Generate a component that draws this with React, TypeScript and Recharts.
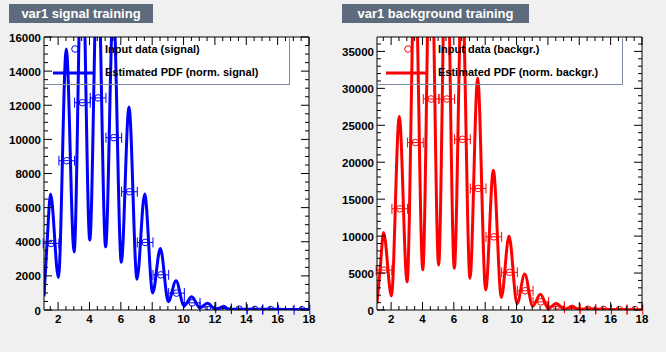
import React from 'react';
import { ComposedChart, Line, Scatter, ErrorBar, XAxis, YAxis, CartesianGrid } from 'recharts';

// fine-grained PDF curve: positions of the peaks and dips
const pdfX = [
  1.1, 1.3, 1.52, 2.02, 2.52, 3.02, 3.52, 4.02, 4.52, 5.03, 5.52, 6.03, 6.52, 7.03, 7.52, 8.03,
  8.52, 9.03, 9.52, 10.03, 10.52, 11.03, 11.52, 12.03, 12.52, 13.03, 13.52, 14.03, 14.52, 15.5,
  16.5, 17.5, 18,
];
const sigPdf = [
  800, 4000, 6800, 1900, 15300, 3400, 22000, 4100, 21000, 3700, 18000, 2800, 11900, 1800, 6800, 1000,
  3600, 490, 1720, 240, 780, 135, 390, 60, 160, 40, 60, 40, 45, 40,
  35, 30, 30,
];
const bkgPdf = [
  900, 5500, 10500, 1900, 26200, 3800, 48000, 5450, 55000, 6100, 55000, 5650, 45000, 4300, 31400, 2700,
  18900, 1700, 10000, 850, 4880, 500, 2130, 200, 880, 120, 400, 100, 180, 100,
  70, 50, 50,
];

// binned input data
const binX = [1.55, 2.55, 3.55, 4.55, 5.55, 6.55, 7.55, 8.55, 9.55, 10.55, 11.55, 12.55, 13.55, 14.55, 15.55, 16.55, 17.55];
const sigData = [3900, 8750, 12150, 12430, 10100, 6930, 3960, 2060, 990, 420, 190, 90, 50, 30, 20, null, 10];
const bkgData = [5400, 13700, 22660, 28560, 28560, 23100, 16450, 9900, 5100, 2610, 1100, 520, 230, 110, 80, 60, 50];
const binHalfWidth = 0.5;

const xDomain = [1.1, 18];
const xTicks = [1.5, 2, 2.5, 3, 3.5, 4, 4.5, 5, 5.5, 6, 6.5, 7, 7.5, 8, 8.5, 9, 9.5, 10, 10.5, 11, 11.5, 12, 12.5, 13, 13.5, 14, 14.5, 15, 15.5, 16, 16.5, 17, 17.5, 18];

const range = (lo: number, hi: number, step: number) => {
  const out: number[] = [];
  for (let v = lo; v <= hi + 1e-9; v += step) out.push(v);
  return out;
};

const FONT = '"Liberation Sans", Arial, Helvetica, sans-serif';
const isMult = (v: number, s: number) => Math.abs(v / s - Math.round(v / s)) < 1e-6;

// ROOT style: tick marks point into the frame, labels outside
const makeTick = (side: 'bottom' | 'top' | 'left' | 'right', major: number) => (props: any) => {
  const { x, y, payload } = props;
  const v = payload.value;
  const big = isMult(v, major);
  const len = big ? 8 : 4;
  if (side === 'bottom') {
    return (
      <g>
        <line x1={x} x2={x} y1={y} y2={y - len} stroke="#000" />
        {big && (
          <text x={x} y={y + 13} textAnchor="middle" fontSize={11.5} fontWeight="bold" fontFamily={FONT} fill="#000">
            {v}
          </text>
        )}
      </g>
    );
  }
  if (side === 'top') return <line x1={x} x2={x} y1={y} y2={y + len} stroke="#000" />;
  if (side === 'right') return <line x1={x} x2={x - len} y1={y} y2={y} stroke="#000" />;
  return (
    <g>
      <line x1={x} x2={x + len} y1={y} y2={y} stroke="#000" />
      {big && (
        <text x={x - 3} y={y + 4.5} textAnchor="end" fontSize={11.5} fontWeight="bold" fontFamily={FONT} fill="#000">
          {v}
        </text>
      )}
    </g>
  );
};

interface PanelProps {
  left: number;
  title: string;
  color: string;
  pdf: number[];
  data: (number | null)[];
  yMax: number;
  yMinorStep: number;
  yMajorStep: number;
  dataLabel: string;
  pdfLabel: string;
}

const Panel = ({ left, title, color, pdf, data, yMax, yMinorStep, yMajorStep, dataLabel, pdfLabel }: PanelProps) => {
  const curve = pdfX.map((x, i) => ({ x, y: pdf[i] }));
  const points = binX
    .map((x, i) => ({ x, y: data[i], xErr: binHalfWidth }))
    .filter((p) => p.y !== null);
  const yTicks = range(0, yMax, yMinorStep);

  return (
    <div style={{ position: 'absolute', left, top: 0, width: 333, height: 352 }}>
      <ComposedChart width={333} height={352} margin={{ top: 27, right: 14, bottom: 12, left: 4 }}>
        <CartesianGrid horizontal={false} vertical={false} fill="#ffffff" fillOpacity={1} stroke="none" />
        <XAxis
          dataKey="x"
          type="number"
          domain={xDomain}
          allowDataOverflow
          ticks={xTicks}
          interval={0}
          height={30}
          tickSize={0}
          tickMargin={0}
          tickLine={false}
          axisLine={{ stroke: '#000' }}
          tick={makeTick('bottom', 2)}
        />
        <XAxis
          xAxisId="top"
          orientation="top"
          dataKey="x"
          type="number"
          domain={xDomain}
          allowDataOverflow
          ticks={xTicks}
          interval={0}
          height={10}
          tickSize={0}
          tickMargin={0}
          tickLine={false}
          axisLine={{ stroke: '#000' }}
          tick={makeTick('top', 2)}
        />
        <YAxis
          type="number"
          domain={[0, yMax]}
          allowDataOverflow
          ticks={yTicks}
          interval={0}
          width={40}
          tickSize={0}
          tickMargin={0}
          tickLine={false}
          axisLine={{ stroke: '#000' }}
          tick={makeTick('left', yMajorStep)}
        />
        <YAxis
          yAxisId="right"
          orientation="right"
          type="number"
          domain={[0, yMax]}
          allowDataOverflow
          ticks={yTicks}
          interval={0}
          width={10}
          tickSize={0}
          tickMargin={0}
          tickLine={false}
          axisLine={{ stroke: '#000' }}
          tick={makeTick('right', yMajorStep)}
        />
        <Line
          data={curve}
          dataKey="y"
          type="monotone"
          stroke={color}
          strokeWidth={3}
          dot={false}
          activeDot={false}
          isAnimationActive={false}
        />
        <Scatter
          data={points}
          dataKey="y"
          isAnimationActive={false}
          shape={(p: any) => <circle cx={p.cx} cy={p.cy} r={3.3} fill="none" stroke={color} strokeWidth={1} />}
        >
          <ErrorBar dataKey="xErr" direction="x" width={5} stroke={color} strokeWidth={1} />
        </Scatter>
      </ComposedChart>

      <div
        style={{
          position: 'absolute',
          left: 9,
          top: 4,
          width: title.length > 22 ? 187 : 144,
          height: 19,
          background: '#5d6b7d',
          color: '#fff',
          fontFamily: FONT,
          fontWeight: 'bold',
          fontSize: 13,
          lineHeight: '19px',
          textAlign: 'center',
        }}
      >
        {title}
      </div>

      <div
        style={{
          position: 'absolute',
          left: 44,
          top: 37,
          width: 245,
          height: 47,
          border: '1px solid #7d8b9d',
          borderTop: 'none',
          borderLeft: 'none',
          fontFamily: FONT,
          fontWeight: 'bold',
          fontSize: 11,
          color: '#000',
        }}
      >
        <svg width={245} height={48} style={{ position: 'absolute', left: 0, top: 0 }}>
          <circle cx={31} cy={12} r={3.3} fill="none" stroke={color} strokeWidth={1} />
          <line x1={9} x2={51} y1={36} y2={36} stroke={color} strokeWidth={3} />
        </svg>
        <div style={{ position: 'absolute', left: 61, top: 6, whiteSpace: 'nowrap' }}>{dataLabel}</div>
        <div style={{ position: 'absolute', left: 61, top: 29, whiteSpace: 'nowrap' }}>{pdfLabel}</div>
      </div>
    </div>
  );
};

export default function App() {
  return (
    <div style={{ position: 'absolute', left: 0, top: 0, width: 666, height: 352, background: '#f0f0f0', overflow: 'hidden' }}>
      <Panel
        left={0}
        title="var1 signal training"
        color="#0000ff"
        pdf={sigPdf}
        data={sigData}
        yMax={16000}
        yMinorStep={500}
        yMajorStep={2000}
        dataLabel="Input data (signal)"
        pdfLabel="Estimated PDF (norm. signal)"
      />
      <Panel
        left={333}
        title="var1 background training"
        color="#ff0000"
        pdf={bkgPdf}
        data={bkgData}
        yMax={36950}
        yMinorStep={1000}
        yMajorStep={5000}
        dataLabel="Input data (backgr.)"
        pdfLabel="Estimated PDF (norm. backgr.)"
      />
    </div>
  );
}
